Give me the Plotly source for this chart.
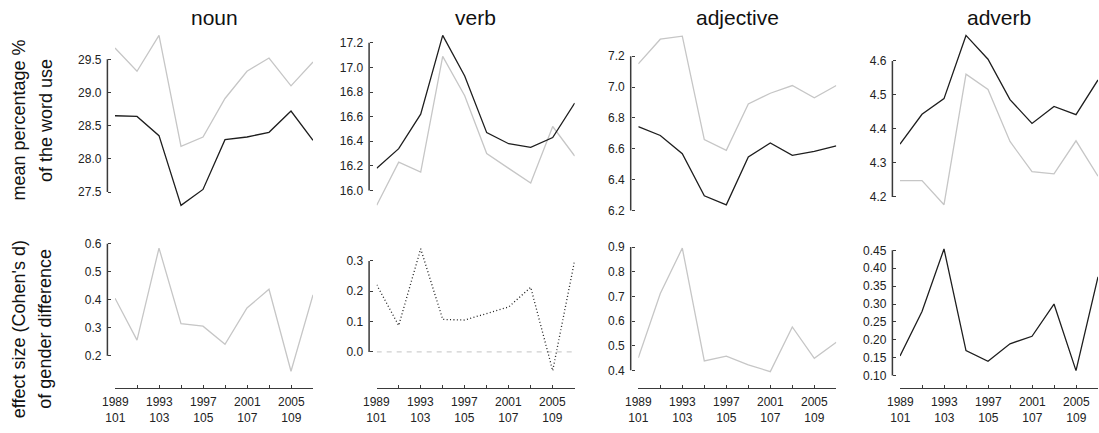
import plotly.graph_objects as go

# ---------------- data ----------------
years = [1989, 1991, 1993, 1995, 1997, 1999, 2001, 2003, 2005, 2007]
tick_years = [1989, 1993, 1997, 2001, 2005]
tick_sessions = ["101", "103", "105", "107", "109"]
categories = ["noun", "verb", "adjective", "adverb"]

noun_black = [28.65, 28.64, 28.35, 27.30, 27.54, 28.29, 28.33, 28.40, 28.72, 28.28]
noun_gray = [29.67, 29.32, 29.86, 28.19, 28.33, 28.91, 29.32, 29.52, 29.10, 29.46]
verb_black = [16.18, 16.34, 16.62, 17.26, 16.93, 16.47, 16.38, 16.35, 16.43, 16.71]
verb_gray = [15.88, 16.23, 16.15, 17.09, 16.77, 16.30, 16.18, 16.06, 16.52, 16.28]
adj_black = [6.744, 6.686, 6.568, 6.295, 6.237, 6.547, 6.638, 6.557, 6.583, 6.619]
adj_gray = [7.15, 7.31, 7.33, 6.66, 6.59, 6.89, 6.96, 7.01, 6.93, 7.01]
adv_black = [4.355, 4.443, 4.489, 4.675, 4.605, 4.486, 4.416, 4.466, 4.442, 4.544]
adv_gray = [4.248, 4.248, 4.177, 4.561, 4.516, 4.363, 4.274, 4.268, 4.365, 4.261]

noun_d = [0.406, 0.256, 0.585, 0.315, 0.306, 0.241, 0.371, 0.438, 0.145, 0.418]
verb_d = [0.221, 0.087, 0.340, 0.107, 0.105, 0.126, 0.148, 0.213, -0.062, 0.302]
adj_d = [0.451, 0.712, 0.896, 0.438, 0.458, 0.422, 0.395, 0.576, 0.449, 0.514]
adv_d = [0.155, 0.279, 0.454, 0.170, 0.140, 0.189, 0.210, 0.300, 0.114, 0.376]

top_ticks = [
    [27.5, 28.0, 28.5, 29.0, 29.5],
    [16.0, 16.2, 16.4, 16.6, 16.8, 17.0, 17.2],
    [6.2, 6.4, 6.6, 6.8, 7.0, 7.2],
    [4.2, 4.3, 4.4, 4.5, 4.6],
]
bottom_ticks = [
    [0.2, 0.3, 0.4, 0.5, 0.6],
    [0.0, 0.1, 0.2, 0.3],
    [0.4, 0.5, 0.6, 0.7, 0.8, 0.9],
    [0.10, 0.15, 0.20, 0.25, 0.30, 0.35, 0.40, 0.45],
]

# ---------------- style / layout ----------------
W, H = 1099, 433
FONT = "Liberation Sans, Arial, Helvetica, sans-serif"
BLACK = "#1e1e1e"
GRAY = "#c6c6c6"
AXC = "#3a3a3a"
TXT = "#222222"

col_x0 = [115.0, 376.7, 638.3, 900.0]
col_w = 198.0
spine_off = 7.6
row_dom_px = [(30, 215), (240, 393)]   # bottom row ends on the x-axis line
xlabel_top_py = 399

top_ranges = [[27.192, 29.947], [15.821, 17.307], [6.187, 7.372], [4.154, 4.692]]
bottom_ranges = [[0.0835, 0.6237], [-0.1206, 0.378], [0.3266, 0.940], [0.0641, 0.4867]]
top_fmt = [".1f", ".1f", ".1f", ".1f"]
bottom_fmt = [".1f", ".1f", ".1f", ".2f"]

top_series = [(noun_black, noun_gray), (verb_black, verb_gray),
              (adj_black, adj_gray), (adv_black, adv_gray)]
bottom_series = [(noun_d, GRAY, "solid"), (verb_d, BLACK, "1px,2.4px"),
                 (adj_d, GRAY, "solid"), (adv_d, BLACK, "solid")]


def px_x(p):
    return p / W


def px_y(p):
    return 1 - p / H


fig = go.Figure()
layout = dict(
    width=W, height=H,
    margin=dict(l=0, r=0, t=0, b=0),
    paper_bgcolor="white", plot_bgcolor="white",
    showlegend=False,
    font=dict(family=FONT, color=TXT, size=12),
)
shapes = []
annotations = []

for row in range(2):
    for col in range(4):
        n = row * 4 + col + 1
        xs = "" if n == 1 else str(n)
        xname, yname = "x" + xs, "y" + xs
        x0 = col_x0[col]
        xdom = [px_x(x0), min(1.0, px_x(x0 + col_w))]
        a, b = row_dom_px[row]
        ydom = [px_y(b), px_y(a)]
        spine_pos = px_x(x0 - spine_off)
        ticks = top_ticks[col] if row == 0 else bottom_ticks[col]
        rng = top_ranges[col] if row == 0 else bottom_ranges[col]
        fmt = top_fmt[col] if row == 0 else bottom_fmt[col]

        if row == 0:
            xa = dict(domain=xdom, range=[years[0], years[-1]], anchor=yname,
                      visible=False, showgrid=False, zeroline=False)
        else:
            xa = dict(domain=xdom, range=[years[0], years[-1]], anchor=yname,
                      showline=True, linecolor=AXC, linewidth=1.4,
                      ticks="inside", ticklen=3, tickwidth=1.2, tickcolor=AXC,
                      tickvals=years, showticklabels=False,
                      showgrid=False, zeroline=False)
            for ty, ts in zip(tick_years, tick_sessions):
                annotations.append(dict(text=f"{ty}<br>{ts}", xref=xname, yref="paper",
                                        x=ty, y=px_y(xlabel_top_py),
                                        xanchor="center", yanchor="top", showarrow=False,
                                        borderpad=0,
                                        font=dict(family=FONT, size=12, color=TXT)))
        ya = dict(domain=ydom, range=rng, anchor="free", position=spine_pos,
                  tickvals=ticks, tickformat=fmt,
                  ticks="inside", ticklen=3, tickwidth=1.2, tickcolor=AXC,
                  tickfont=dict(family=FONT, size=12, color=TXT),
                  showline=False, showgrid=False, zeroline=False,
                  ticklabelstandoff=6)
        layout["xaxis" + xs] = xa
        layout["yaxis" + xs] = ya

        # trimmed y spine from first to last tick
        shapes.append(dict(type="line", xref="paper", yref=yname,
                           x0=spine_pos, x1=spine_pos, y0=ticks[0], y1=ticks[-1],
                           line=dict(color=AXC, width=1.5)))

        if row == 0:
            blk, gry = top_series[col]
            fig.add_trace(go.Scatter(x=years, y=gry, mode="lines", xaxis=xname, yaxis=yname,
                                     line=dict(color=GRAY, width=1.3)))
            fig.add_trace(go.Scatter(x=years, y=blk, mode="lines", xaxis=xname, yaxis=yname,
                                     line=dict(color=BLACK, width=1.3)))
            annotations.append(dict(text=categories[col], xref="paper", yref="paper",
                                    x=px_x(x0 + col_w / 2), y=px_y(18),
                                    xanchor="center", yanchor="middle", showarrow=False,
                                    font=dict(family=FONT, size=21, color="#111")))
        else:
            vals, colr, dash = bottom_series[col]
            if col == 1:
                fig.add_trace(go.Scatter(x=[years[0], years[-1]], y=[0, 0], mode="lines",
                                         xaxis=xname, yaxis=yname,
                                         line=dict(color="#cfcfcf", width=1.3, dash="5px,5px")))
            fig.add_trace(go.Scatter(x=years, y=vals, mode="lines", xaxis=xname, yaxis=yname,
                                     line=dict(color=colr, width=1.3, dash=dash)))

# y-axis titles (two lines each)
ytitles = [
    ("mean percentage %", "of the word use", 122),
    ("effect size (Cohen's d)", "of gender difference", 333),
]
for l1, l2, cy in ytitles:
    for txt, cx in ((l1, 19), (l2, 45.5)):
        annotations.append(dict(text=txt, xref="paper", yref="paper",
                                x=px_x(cx), y=px_y(cy), textangle=-90,
                                xanchor="center", yanchor="middle", showarrow=False,
                                font=dict(family=FONT, size=18, color="#111")))

layout["shapes"] = shapes
layout["annotations"] = annotations
fig.update_layout(**layout)
fig.write_html(
    "out.html",
    config={"displayModeBar": False},
    post_script="document.body.style.margin='0';document.body.style.padding='0';"
                "document.body.style.overflow='hidden';",
)
